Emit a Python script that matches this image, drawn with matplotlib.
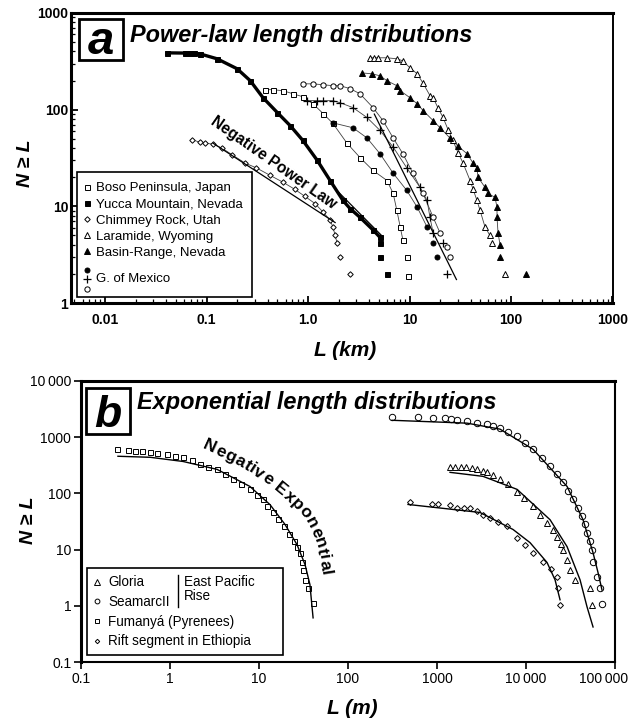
import numpy as np
import matplotlib
matplotlib.use('Agg')
import matplotlib.pyplot as plt
from matplotlib.legend_handler import HandlerBase
from matplotlib.lines import Line2D
from matplotlib.patches import Rectangle
from matplotlib.transforms import ScaledTranslation
from matplotlib.font_manager import FontProperties, findfont, get_font
from matplotlib.ticker import FixedLocator, FixedFormatter, NullLocator, LogLocator, NullFormatter

plt.rcParams['font.family'] = ['Liberation Sans', 'DejaVu Sans']

# ---- panel a: power-law length distributions, L in km ----
boso_L = [0.377, 0.45, 0.57, 0.71, 0.89, 1.12, 1.41, 1.76, 2.42, 3.25, 4.37, 6.0, 6.9, 7.5, 8.1, 8.6, 9.4, 9.7]
boso_N = [161, 161, 157, 146, 136, 115, 91, 72, 45, 32, 23.5, 18.5, 13.6, 9.1, 6.1, 4.5, 3.0, 1.9]

yucca_L = [0.041, 0.062, 0.068, 0.075, 0.086, 0.127, 0.20, 0.27, 0.36, 0.50, 0.67, 0.89, 1.23, 1.65,
           2.21, 2.59, 3.25, 4.37, 5.1, 5.1, 5.1, 6.0]
yucca_N = [387, 385, 385, 383, 378, 336, 265, 199, 133, 93, 68, 48, 30, 18.5,
           11.5, 9.5, 7.7, 5.7, 4.8, 4.2, 3.0, 2.0]

chimney_L = [0.072, 0.086, 0.097, 0.116, 0.142, 0.18, 0.24, 0.31, 0.42, 0.57, 0.74, 0.93, 1.17, 1.41,
             1.65, 1.76, 1.85, 1.93, 2.07, 2.59]
chimney_N = [49, 46, 45, 44, 40, 34, 28, 25, 21, 17.7, 15, 12.7, 10.7, 8.7,
             7.2, 6.1, 5.0, 4.2, 3.0, 2.0]

laramide_L = [4.08, 4.5, 4.9, 6.0, 7.5, 8.6, 10.1, 11.9, 13.5, 15.9, 17.1, 19, 21.4, 24, 26.8, 30,
              33.7, 39.5, 42.3, 46.2, 49.5, 55.5, 62, 65, 87]
laramide_N = [344, 344, 344, 344, 336, 320, 271, 235, 190, 140, 133, 105, 83, 62, 48, 36,
              28, 18.5, 15, 11.5, 9.1, 6.1, 5.0, 4.2, 2.0]

basin_L = [3.40, 4.27, 5.12, 6.0, 7.5, 8.1, 10.1, 11.9, 13.6, 17.1, 20, 25, 30, 36.9, 42.3, 46.2,
           47.3, 55.5, 59.3, 69.5, 72.8, 72.8, 74.5, 78, 78, 140]
basin_N = [240, 235, 224, 199, 177, 157, 133, 115, 98, 77, 65, 51, 42, 35, 28, 25,
           20, 15.7, 13.6, 12.4, 9.8, 7.7, 5.3, 4.0, 3.0, 2.0]

gom_fill_L = [1.76, 2.77, 3.81, 5.12, 6.9, 9.4, 11.9, 14.9, 17.1, 18.7]
gom_fill_N = [73, 65, 51, 35, 22, 14.6, 9.8, 6.1, 4.2, 3.0]
gom_plus_L = [0.98, 1.23, 1.41, 1.76, 2.07, 2.77, 3.81, 5.12, 6.9, 9.4, 12.7, 14.9, 15.9, 17.1, 21.4, 23.4]
gom_plus_N = [124, 124, 124, 124, 118, 105, 83, 61, 41, 25, 15.7, 11.5, 7.7, 5.3, 4.2, 2.0]
gom_open_L = [0.89, 1.12, 1.41, 1.76, 2.07, 2.6, 3.25, 4.37, 5.48, 6.9, 8.6, 10.8, 13.6, 17.1, 20, 23.4, 25]
gom_open_N = [185, 185, 181, 177, 177, 165, 146, 105, 77, 51, 35, 22, 13.6, 7.7, 5.3, 3.8, 3.0]

# straight power-law fits drawn on panel a
chimney_fit_L = [0.116, 1.85]
chimney_fit_N = [45, 6.8]
yucca_fit_L = [2.0, 5.3]
yucca_fit_N = [14, 5.0]
gom_fit_L = [4.5, 29]
gom_fit_N = [90, 1.75]

a_xticks = [0.01, 0.1, 1, 10, 100, 1000]
a_xlabels = ['0.01', '0.1', '1.0', '10', '100', '1000']
a_yticks = [1, 10, 100, 1000]
a_ylabels = ['1', '10', '100', '1000']

# ---- panel b: exponential length distributions, L in m ----
gloria_L = [1400, 1600, 1850, 2100, 2450, 2800, 3300, 3650, 4300, 5100, 6200, 7900, 9500, 12000, 14500,
            17200, 20000, 22300, 24500, 26100, 28900, 31200, 35500, 52400, 55200]
gloria_N = [300, 300, 295, 290, 285, 275, 250, 237, 210, 178, 145, 104, 82, 58.6, 42,
            30.3, 22, 17.1, 12.5, 10, 6.6, 4.4, 2.9, 2.1, 1.04]

seamarc_L = [312, 612, 902, 1230, 1436, 1678, 2173, 2814, 3645, 4300, 5105, 6300, 7925, 9800, 11990,
             15000, 18620, 22000, 26060, 30000, 33760, 38000, 42580, 45500, 48440, 52000, 55170,
             56620, 62800, 67800, 71450]
seamarc_N = [2276, 2276, 2185, 2185, 2100, 2000, 1931, 1800, 1700, 1572, 1450, 1250, 1042, 800, 610,
             430, 303, 220, 157, 110, 78, 55, 39, 28, 20, 14, 10,
             5.9, 3.3, 2.1, 1.09]

fumanya_L = [0.254, 0.337, 0.40, 0.48, 0.60, 0.71, 0.93, 1.15, 1.40, 1.75, 2.17, 2.7, 3.37, 4.2, 5.1,
             6.3, 7.9, 9.4, 11.1, 12.3, 14.5, 16.5, 19, 22, 24.5, 27, 29, 30.4, 31.2, 32.9, 35.5, 40.5]
fumanya_N = [610, 586, 570, 560, 540, 520, 497, 470, 439, 390, 330, 300, 268, 220, 178,
             150, 118, 95, 78, 60, 46, 35, 26, 19, 14, 11, 8.8, 5.9, 4.4, 2.9, 2.1, 1.13]

rift_L = [497, 879, 1026, 1400, 1678, 2000, 2350, 2800, 3300, 3940, 4800, 6120, 7925, 9800, 11990,
          15520, 19000, 22280, 22900, 24100]
rift_N = [69, 65, 66, 61, 56, 56, 54, 48, 42, 37, 31, 25.8, 16.4, 12, 8.8,
          5.9, 4.5, 3.3, 2.1, 1.04]

# negative-exponential fits
seamarc_fit_L = [312, 2173, 5105, 11990, 28900, 43700, 56600, 64400, 71450]
seamarc_fit_N = [2000, 1778, 1390, 610, 133, 34, 8.8, 3.9, 1.9]
gloria_fit_L = [1400, 3290, 7925, 18620, 28900, 40450, 48440, 56620]
gloria_fit_N = [237, 201, 118, 34, 11.3, 2.9, 0.96, 0.42]
rift_fit_L = [472, 3041, 7145, 11090, 17220, 21180, 24100]
rift_fit_N = [63.6, 45.8, 22.8, 13.3, 5.9, 2.9, 1.28]
fumanya_fit_L = [0.26, 0.6, 1.4, 3.37, 7.9, 13.3, 19.6, 26.7, 32.9, 37.3, 40.5]
fumanya_fit_N = [458, 439, 370, 268, 133, 63, 28, 12.3, 5.4, 2.4, 0.61]

b_xticks = [0.1, 1, 10, 100, 1000, 10000, 100000]
b_xlabels = ['0.1', '1', '10', '100', '1000', '10\u2009000', '100\u2009000']
b_yticks = [0.1, 1, 10, 100, 1000, 10000]
b_ylabels = ['0.1', '1', '10', '100', '1000', '10\u2009000']


class StackedMarkers(HandlerBase):
    # legend entry with the markers of several handles stacked vertically
    def create_artists(self, legend, orig_handle, xdescent, ydescent, width, height, fontsize, trans):
        x = width / 2 - xdescent
        y = (height - ydescent) / 2
        out = []
        for k, h in zip([1, 0, -1], orig_handle):
            m = Line2D([x], [y + k * 0.72 * fontsize])
            m.update_from(h)
            m.set_linestyle('none')
            m.set_transform(trans)
            out.append(m)
        return out


def curved_label(fig, s, path_px, size):
    # lay the letters of s one by one along a polyline given in figure pixels (y down)
    prop = FontProperties(family='Liberation Sans', weight='bold', size=size)
    font = get_font(findfont(prop))
    font.set_size(size, fig.dpi)
    adv = [font.load_char(ord(c)).linearHoriAdvance / 65536 for c in s]
    P = np.array(path_px, float)
    seg = np.hypot(*np.diff(P, axis=0).T)
    cum = np.concatenate([[0], np.cumsum(seg)])
    stretch = cum[-1] / sum(adv)
    W, H = fig.bbox.width, fig.bbox.height
    pos = 0.0
    for c, a in zip(s, adv):
        sc = (pos + a / 2) * stretch
        x = np.interp(sc, cum, P[:, 0])
        y = np.interp(sc, cum, P[:, 1])
        x1, y1 = np.interp(sc - 2, cum, P[:, 0]), np.interp(sc - 2, cum, P[:, 1])
        x2, y2 = np.interp(sc + 2, cum, P[:, 0]), np.interp(sc + 2, cum, P[:, 1])
        ang = -np.degrees(np.arctan2(y2 - y1, x2 - x1))
        fig.text(x / W, 1 - y / H, c, rotation=ang, rotation_mode='anchor',
                 ha='center', va='center', fontproperties=prop)
        pos += a


open_mk = dict(ls='none', mfc='white', mec='black', mew=0.7)
fill_mk = dict(ls='none', mfc='black', mec='black', mew=0.7)
trail = dict(color='0.25', lw=0.6, zorder=1)

fig = plt.figure(figsize=(6.29, 7.22), dpi=100)
ax_a = fig.add_axes([0.1129, 0.5803, 0.8617, 0.4017])
ax_b = fig.add_axes([0.1288, 0.0831, 0.8490, 0.3892])

# ---------------- panel a ----------------
ax_a.set_xscale('log')
ax_a.set_yscale('log')
ax_a.set_xlim(0.00462, 1012)
ax_a.set_ylim(1, 1000)

ax_a.plot(yucca_L[:-3], yucca_N[:-3], color='black', lw=2.4, zorder=2)
for L, N in [(boso_L, boso_N), (chimney_L, chimney_N), (laramide_L, laramide_N), (basin_L, basin_N),
             (gom_fill_L, gom_fill_N), (gom_plus_L, gom_plus_N), (gom_open_L, gom_open_N)]:
    ax_a.plot(L[:-2], N[:-2], **trail)

h_boso, = ax_a.plot(boso_L, boso_N, marker='s', ms=3.6, **open_mk)
h_yucca, = ax_a.plot(yucca_L, yucca_N, marker='s', ms=3.6, **fill_mk)
h_chim, = ax_a.plot(chimney_L, chimney_N, marker='D', ms=2.8, **open_mk)
h_lara, = ax_a.plot(laramide_L, laramide_N, marker='^', ms=3.8, **open_mk)
h_basin, = ax_a.plot(basin_L, basin_N, marker='^', ms=3.8, **fill_mk)
h_gf, = ax_a.plot(gom_fill_L, gom_fill_N, marker='o', ms=3.6, **fill_mk)
h_gp, = ax_a.plot(gom_plus_L, gom_plus_N, marker='+', ms=6, ls='none', color='black', mew=0.9)
h_go, = ax_a.plot(gom_open_L, gom_open_N, marker='o', ms=3.8, **open_mk)

for L, N in [(chimney_fit_L, chimney_fit_N), (yucca_fit_L, yucca_fit_N), (gom_fit_L, gom_fit_N)]:
    ax_a.plot(L, N, color='black', lw=0.9, zorder=3)

ax_a.xaxis.set_major_locator(FixedLocator(a_xticks))
ax_a.xaxis.set_major_formatter(FixedFormatter(a_xlabels))
ax_a.yaxis.set_major_locator(FixedLocator(a_yticks))
ax_a.yaxis.set_major_formatter(FixedFormatter(a_ylabels))
for axis in (ax_a.xaxis, ax_a.yaxis):
    axis.set_minor_locator(LogLocator(base=10, subs=range(2, 10), numticks=20))
    axis.set_minor_formatter(NullFormatter())
ax_a.tick_params(which='both', direction='in', top=False, right=False)
ax_a.tick_params(which='major', length=5, width=1.3, labelsize=10)
ax_a.tick_params(which='minor', length=3, width=0.9)
ax_a.tick_params(axis='x', pad=7)
ax_a.tick_params(axis='y', pad=2)
for lab in ax_a.get_xticklabels() + ax_a.get_yticklabels():
    lab.set_fontweight('bold')
for side in ['left', 'bottom', 'top']:
    ax_a.spines[side].set_linewidth(2.2)
ax_a.spines['right'].set_linewidth(1.4)

ax_a.add_patch(Rectangle((0.0111, 0.0207), 0.3229, 0.431, transform=ax_a.transAxes,
                         fc='white', ec='black', lw=1.2, zorder=4))
leg_a = ax_a.legend([h_boso, h_yucca, h_chim, h_lara, h_basin, (h_gf, h_gp, h_go)],
                    ['Boso Peninsula, Japan', 'Yucca Mountain, Nevada', 'Chimmey Rock, Utah',
                     'Laramide, Wyoming', 'Basin-Range, Nevada', '\nG. of Mexico\n'],
                    handler_map={tuple: StackedMarkers()},
                    loc='upper left', bbox_to_anchor=(0.004, 0.452), borderaxespad=0,
                    fontsize=9.5, frameon=False, borderpad=0.76, handlelength=0.6,
                    handletextpad=0.4, labelspacing=0.3)
leg_a.get_texts()[5].set_linespacing(0.8)

ax_a.add_patch(Rectangle((0.0148, 0.838), 0.0812, 0.1414, transform=ax_a.transAxes,
                         fill=False, lw=2, ec='black', zorder=5))
ax_a.text(0.055, 0.858, 'a', transform=ax_a.transAxes, ha='center', va='baseline',
          fontsize=34, fontweight='bold', fontstyle='italic', zorder=6)
ax_a.text(0.109, 0.924, 'Power-law length distributions', transform=ax_a.transAxes,
          ha='left', va='center', fontsize=16.9, fontweight='bold', fontstyle='italic')
ax_a.text(0.373, 0.483, 'Negative Power Law', transform=ax_a.transAxes, ha='center', va='center',
          rotation=-35, fontsize=11.2, fontweight='bold')

fig.text(0.040, 0.774, 'N \u2265 L', rotation=90, ha='center', va='center',
         fontsize=14, fontweight='bold', fontstyle='italic')
fig.text(0.548, 0.514, 'L (km)', ha='center', va='center',
         fontsize=15, fontweight='bold', fontstyle='italic')

# ---------------- panel b ----------------
ax_b.set_xscale('log')
ax_b.set_yscale('log')
ax_b.set_xlim(0.1, 100000)
ax_b.set_ylim(0.1, 10000)

for L, N in [(seamarc_fit_L, seamarc_fit_N), (gloria_fit_L, gloria_fit_N),
             (rift_fit_L, rift_fit_N), (fumanya_fit_L, fumanya_fit_N)]:
    ax_b.plot(L, N, color='black', lw=1.0, zorder=3)

h_gl, = ax_b.plot(gloria_L, gloria_N, marker='^', ms=5, label='Gloria', **open_mk)
h_sm, = ax_b.plot(seamarc_L, seamarc_N, marker='o', ms=4.6, label='SeamarcII', **open_mk)
h_fu, = ax_b.plot(fumanya_L, fumanya_N, marker='s', ms=3.6, label='Fumany\u00e1 (Pyrenees)', **open_mk)
h_ri, = ax_b.plot(rift_L, rift_N, marker='D', ms=3.0, label='Rift segment in Ethiopia', **open_mk)

ax_b.xaxis.set_major_locator(FixedLocator(b_xticks))
ax_b.xaxis.set_major_formatter(FixedFormatter(b_xlabels))
ax_b.yaxis.set_major_locator(FixedLocator(b_yticks))
ax_b.yaxis.set_major_formatter(FixedFormatter(b_ylabels))
ax_b.xaxis.set_minor_locator(NullLocator())
ax_b.yaxis.set_minor_locator(NullLocator())
ax_b.tick_params(which='major', direction='out', length=5, width=1.2, labelsize=10, pad=2,
                 top=False, right=False)
for side in ['left', 'top']:
    ax_b.spines[side].set_linewidth(2.2)
for side in ['bottom', 'right']:
    ax_b.spines[side].set_linewidth(1.5)

# the last x label sits flush with the right edge of the figure
last = ax_b.xaxis.get_major_ticks()[-1].label1
last.set_horizontalalignment('right')
last.set_transform(last.get_transform() + ScaledTranslation(0.13, 0, fig.dpi_scale_trans))

ax_b.add_patch(Rectangle((0.0112, 0.0249), 0.367, 0.3096, transform=ax_b.transAxes,
                         fc='white', ec='black', lw=1.2, zorder=4))
leg_b = ax_b.legend(handles=[h_gl, h_sm, h_fu, h_ri], loc='upper left', bbox_to_anchor=(0.0088, 0.335),
                    borderaxespad=0, fontsize=9.75, frameon=False, borderpad=0.55,
                    handlelength=0.6, handletextpad=0.51, labelspacing=0.42, markerscale=0.75)
ax_b.text(0.193, 0.308, 'East Pacific\nRise', transform=ax_b.transAxes, ha='left', va='top',
          fontsize=9.75, linespacing=1.0, zorder=7)
ax_b.plot([0.182, 0.182], [0.196, 0.310], transform=ax_b.transAxes, color='black', lw=1, zorder=7)

ax_b.add_patch(Rectangle((0.0094, 0.811), 0.0824, 0.164, transform=ax_b.transAxes,
                         fill=False, lw=2, ec='black', zorder=5))
ax_b.text(0.0506, 0.836, 'b', transform=ax_b.transAxes, ha='center', va='baseline',
          fontsize=32, fontweight='bold', fontstyle='italic', zorder=6)
ax_b.text(0.105, 0.925, 'Exponential length distributions', transform=ax_b.transAxes,
          ha='left', va='center', fontsize=16.9, fontweight='bold', fontstyle='italic')

curved_label(fig, 'Negative Exponential',
             [(203, 444), (240, 461), (268, 479), (290, 497), (306, 513), (316, 532), (322, 550), (326, 575)],
             12.5)

fig.text(0.045, 0.279, 'N \u2265 L', rotation=90, ha='center', va='center',
         fontsize=14, fontweight='bold', fontstyle='italic')
fig.text(0.560, 0.019, 'L (m)', ha='center', va='center',
         fontsize=15, fontweight='bold', fontstyle='italic')

fig.savefig('out.png', dpi=100)
